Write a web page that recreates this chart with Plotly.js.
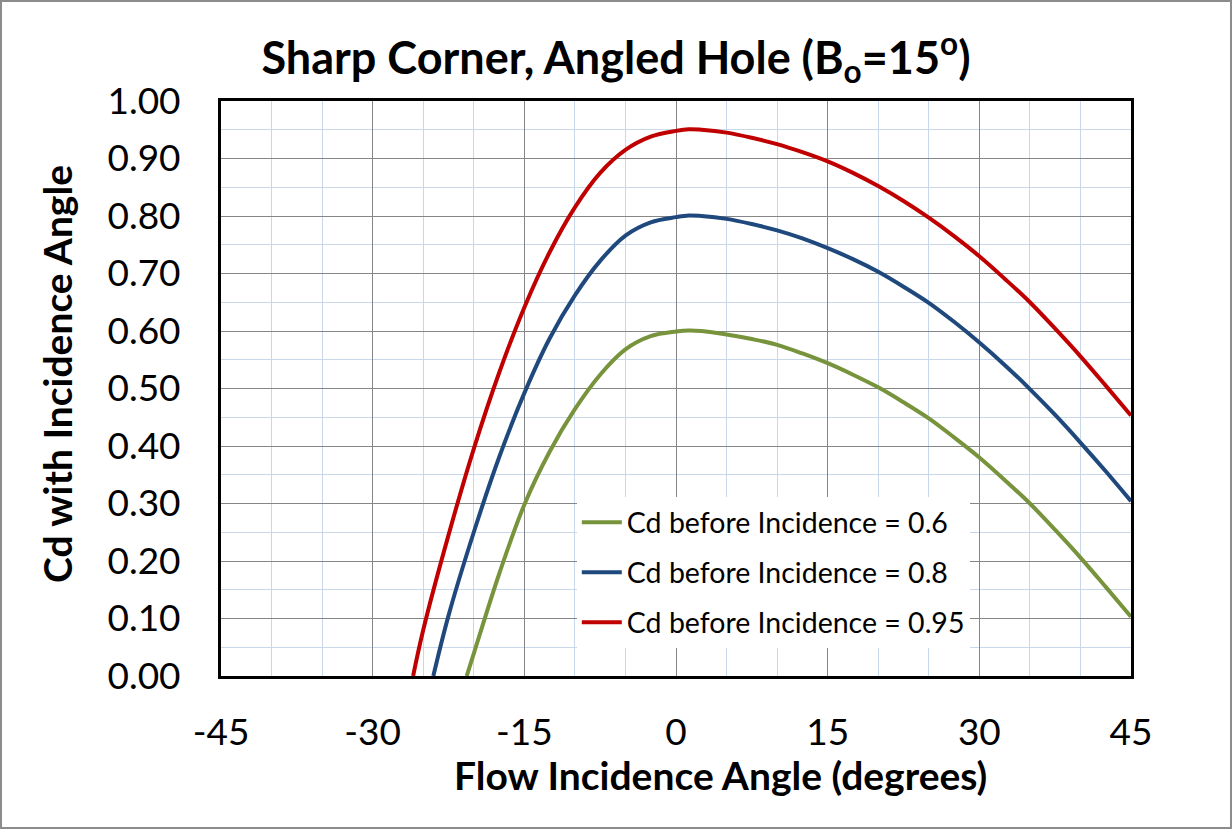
<!DOCTYPE html>
<html>
<head>
<meta charset="utf-8">
<script src="https://cdn.plot.ly/plotly-3.0.1.min.js"></script>
<style>
  html, body { margin: 0; padding: 0; background: #fff; }
  #wrap { position: relative; width: 1232px; height: 829px; }
  #chart { width: 1232px; height: 829px; }
  #frame { position: absolute; left: 0; top: 0; width: 1232px; height: 829px;
           box-sizing: border-box; border: 2px solid #8c8c8c; pointer-events: none; }
</style>
</head>
<body>
<div id="wrap"><div id="chart"></div><div id="frame"></div></div>
<script>
// Flow incidence angle (degrees) and Cd values
const seriesNames = [
  "Cd before Incidence = 0.6",
  "Cd before Incidence = 0.8",
  "Cd before Incidence = 0.95"
];
const seriesColors = ["#77933C", "#1F497D", "#C00000"];

const angle06 = [-20.7, -20, -17.5, -15, -12.5, -10, -7.5, -5, -2.5, 0, 1.25, 2.5, 5, 7.5, 10, 12.5, 15, 17.5, 20, 22.5, 25, 27.5, 30, 32.5, 35, 37.5, 40, 42.5, 45];
const cd06    = [0.000, 0.039, 0.177, 0.298, 0.390, 0.464, 0.524, 0.568, 0.591, 0.599, 0.601, 0.600, 0.594, 0.586, 0.576, 0.561, 0.544, 0.524, 0.502, 0.476, 0.448, 0.415, 0.380, 0.341, 0.300, 0.254, 0.206, 0.155, 0.103];

const angle08 = [-24.0, -22.5, -20, -17.5, -15, -12.5, -10, -7.5, -5, -2.5, 0, 1.25, 2.5, 5, 7.5, 10, 12.5, 15, 17.5, 20, 22.5, 25, 27.5, 30, 32.5, 35, 37.5, 40, 42.5, 45];
const cd08    = [0.000, 0.105, 0.250, 0.380, 0.492, 0.587, 0.662, 0.722, 0.766, 0.789, 0.798, 0.801, 0.800, 0.795, 0.786, 0.775, 0.761, 0.744, 0.725, 0.703, 0.677, 0.649, 0.616, 0.580, 0.541, 0.499, 0.454, 0.406, 0.356, 0.304];

const angle095 = [-26.0, -25, -22.5, -20, -17.5, -15, -12.5, -10, -7.5, -5, -2.5, 0, 1.25, 2.5, 5, 7.5, 10, 12.5, 15, 17.5, 20, 22.5, 25, 27.5, 30, 32.5, 35, 37.5, 40, 42.5, 45];
const cd095    = [0.000, 0.080, 0.245, 0.395, 0.527, 0.641, 0.737, 0.815, 0.875, 0.915, 0.938, 0.948, 0.951, 0.950, 0.945, 0.936, 0.925, 0.911, 0.895, 0.875, 0.852, 0.826, 0.797, 0.765, 0.730, 0.691, 0.650, 0.604, 0.556, 0.505, 0.453];

const xTickVals = [-45, -30, -15, 0, 15, 30, 45];
const yTickVals = [0, 0.1, 0.2, 0.3, 0.4, 0.5, 0.6, 0.7, 0.8, 0.9, 1.0];

const FONT = "Lato, 'Open Sans', sans-serif";

const xs = [angle06, angle08, angle095];
const ys = [cd06, cd08, cd095];
const traces = xs.map((x, i) => ({
  type: "scatter",
  mode: "lines",
  x: x,
  y: ys[i],
  name: seriesNames[i],
  legendgroup: "g" + i,
  line: { color: seriesColors[i], width: 4, shape: "spline", smoothing: 1 },
  hoverinfo: "x+y"
}));

const layout = {
  width: 1232,
  height: 829,
  margin: { l: 221, r: 101, t: 101, b: 153 },
  paper_bgcolor: "#ffffff",
  plot_bgcolor: "#ffffff",
  font: { family: FONT, color: "#000000" },
  title: {
    text: "<b>Sharp Corner, Angled Hole (B<sub>o</sub>=15<sup>o</sup>)</b>",
    font: { family: FONT, size: 45, color: "#000000" },
    xref: "container", x: 0.5, xanchor: "center",
    yref: "container", y: 0.93, yanchor: "middle"
  },
  xaxis: {
    range: [-45, 45],
    tickvals: xTickVals,
    ticktext: xTickVals.map(String),
    tickfont: { family: FONT, size: 37 },
    ticks: "",
    ticklabelstandoff: 22,
    showgrid: true,
    gridcolor: "#868686",
    gridwidth: 1,
    minor: { dtick: 5, tick0: 0, showgrid: true, gridcolor: "#c8d7ea", gridwidth: 1 },
    showline: true, mirror: true, linecolor: "#000000", linewidth: 3,
    zeroline: false,
    fixedrange: true
  },
  yaxis: {
    range: [0, 1],
    tickvals: yTickVals,
    ticktext: yTickVals.map(v => v.toFixed(2)),
    tickfont: { family: FONT, size: 37 },
    ticks: "",
    ticklabelstandoff: 30,
    showgrid: true,
    gridcolor: "#868686",
    gridwidth: 1,
    minor: { dtick: 0.05, tick0: 0, showgrid: true, gridcolor: "#c8d7ea", gridwidth: 1 },
    showline: true, mirror: true, linecolor: "#000000", linewidth: 3,
    zeroline: false,
    fixedrange: true
  },
  legend: {
    x: 0.391, y: 0.311, xanchor: "left", yanchor: "top",
    bgcolor: "#ffffff",
    borderwidth: 0,
    font: { family: FONT, size: 28.5, color: "#000000" },
    tracegroupgap: 10,
    itemwidth: 40
  },
  annotations: [
    {
      text: "<b>Flow Incidence Angle (degrees)</b>",
      xref: "paper", yref: "paper",
      x: (720 - 221) / 910, y: -(775 - 676) / 575,
      xanchor: "center", yanchor: "middle",
      showarrow: false,
      font: { family: FONT, size: 39, color: "#000000" }
    },
    {
      text: "<b>Cd with Incidence Angle</b>",
      xref: "paper", yref: "paper",
      x: -(221 - 57) / 910, y: (676 - 374) / 575,
      xanchor: "center", yanchor: "middle",
      textangle: -90,
      showarrow: false,
      font: { family: FONT, size: 39, color: "#000000" }
    }
  ],
  showlegend: true
};

Plotly.newPlot("chart", traces, layout, { displayModeBar: false, staticPlot: true });
</script>
</body>
</html>
